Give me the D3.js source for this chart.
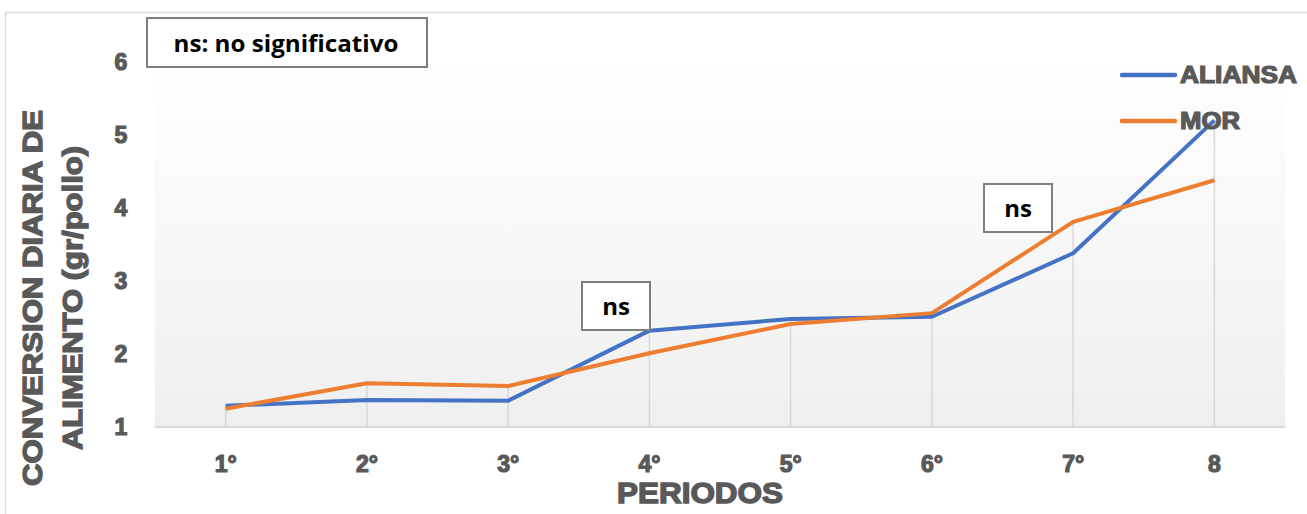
<!DOCTYPE html>
<html>
<head>
<meta charset="utf-8">
<script src="https://cdn.jsdelivr.net/npm/d3@7"></script>
<style>
  body { margin: 0; background: #fff; }
  text { font-family: "Liberation Sans", Arial, sans-serif; }
</style>
</head>
<body>
<div id="chart"></div>
<script>
"use strict";

// Data
const periods = ["1°", "2°", "3°", "4°", "5°", "6°", "7°", "8"];
const aliansa = [1.29, 1.37, 1.36, 2.32, 2.48, 2.51, 3.38, 5.2];
const mor = [1.25, 1.60, 1.56, 2.01, 2.41, 2.56, 3.81, 4.38];
const yTicks = [1, 2, 3, 4, 5, 6];
const seriesNames = ["ALIANSA", "MOR"];
const seriesColors = ["#4472c4", "#ed7d31"];
const noteText = "ns: no significativo";
const nsLabels = ["ns", "ns"];

const width = 1307, height = 514;
const plot = { left: 155, right: 1285, top: 62, bottom: 427 };
const axisGrey = "#595959";
// annotation boxes (top-left corners, pixels)
const nsBoxPos = [[582, 282], [984, 184]];

let svg = d3.select("#chart").append("svg")
    .attr("width", width)
    .attr("height", height);

// Outer chart frame
svg.append("rect")
    .attr("x", 5.5).attr("y", 12.5)
    .attr("width", width + 10).attr("height", height + 10)
    .attr("fill", "none")
    .attr("stroke", "#d9d9d9")
    .attr("stroke-width", 1.5);

// Plot background gradient
let defs = svg.append("defs");
let grad = defs.append("linearGradient")
    .attr("id", "bg").attr("x1", 0).attr("y1", 0).attr("x2", 0).attr("y2", 1);
grad.append("stop").attr("offset", "0%").attr("stop-color", "#ffffff");
grad.append("stop").attr("offset", "100%").attr("stop-color", "#efefef");

let xScale = d3.scaleBand()
    .domain(periods)
    .range([plot.left, plot.right]);
let xc = d => xScale(d) + xScale.bandwidth() / 2;

let yScale = d3.scaleLinear()
    .domain([1, 6])
    .range([plot.bottom, plot.top]);

svg.append("rect")
    .attr("x", plot.left).attr("y", yScale(6))
    .attr("width", plot.right - plot.left)
    .attr("height", plot.bottom - yScale(6))
    .attr("fill", "url(#bg)");

// Drop lines from the highest point down to the axis
svg.append("g").selectAll("line")
    .data(periods)
    .join("line")
    .attr("x1", d => xc(d)).attr("x2", d => xc(d))
    .attr("y1", (d, i) => yScale(Math.max(aliansa[i], mor[i])))
    .attr("y2", plot.bottom)
    .attr("stroke", "#d9d9d9")
    .attr("stroke-width", 1.5);

// Category axis line
svg.append("line")
    .attr("x1", plot.left).attr("x2", plot.right)
    .attr("y1", plot.bottom).attr("y2", plot.bottom)
    .attr("stroke", "#d9d9d9")
    .attr("stroke-width", 2);

// Y tick labels
svg.append("g").selectAll("text")
    .data(yTicks)
    .join("text")
    .attr("x", 121)
    .attr("y", d => yScale(d))
    .attr("dy", "0.36em")
    .attr("text-anchor", "middle")
    .attr("fill", axisGrey)
    .attr("stroke", axisGrey).attr("stroke-width", 1.2)
    .style("font-size", "23px")
    .style("font-weight", "bold")
    .text(d => d);

// X tick labels
svg.append("g").selectAll("text")
    .data(periods)
    .join("text")
    .attr("x", d => xc(d))
    .attr("y", 464)
    .attr("dy", "0.36em")
    .attr("text-anchor", "middle")
    .attr("fill", axisGrey)
    .attr("stroke", axisGrey).attr("stroke-width", 1.2)
    .style("font-size", "23px")
    .style("font-weight", "bold")
    .text(d => d);

// Axis titles
svg.append("text")
    .attr("x", 700).attr("y", 503)
    .attr("text-anchor", "middle")
    .attr("fill", axisGrey)
    .attr("stroke", axisGrey).attr("stroke-width", 1.4)
    .attr("textLength", 166).attr("lengthAdjust", "spacingAndGlyphs")
    .style("font-size", "29px")
    .style("font-weight", "bold")
    .text("PERIODOS");

let yTitle = svg.append("text")
    .attr("transform", "translate(0,298) rotate(-90)")
    .attr("text-anchor", "middle")
    .attr("fill", axisGrey)
    .attr("stroke", axisGrey).attr("stroke-width", 1.4)
    .style("font-size", "28px")
    .style("font-weight", "bold");
yTitle.append("tspan").attr("x", 0).attr("y", 42)
    .attr("textLength", 376).attr("lengthAdjust", "spacingAndGlyphs")
    .text("CONVERSION DIARIA DE");
yTitle.append("tspan").attr("x", 0).attr("y", 82)
    .attr("textLength", 304).attr("lengthAdjust", "spacingAndGlyphs")
    .text("ALIMENTO (gr/pollo)");

// Series lines
let line = d3.line()
    .x((d, i) => xc(periods[i]))
    .y(d => yScale(d));

svg.append("g").selectAll("path")
    .data([aliansa, mor])
    .join("path")
    .attr("d", d => line(d))
    .attr("fill", "none")
    .attr("stroke", (d, i) => seriesColors[i])
    .attr("stroke-width", 4)
    .attr("stroke-linejoin", "round");

// Legend
const legendWidths = [117, 60];
let legend = svg.append("g").selectAll("g")
    .data(seriesNames)
    .join("g")
    .attr("transform", (d, i) => "translate(1122," + (75 + i * 46) + ")");
legend.append("line")
    .attr("x1", 0).attr("x2", 53)
    .attr("stroke", (d, i) => seriesColors[i])
    .attr("stroke-width", 4.5)
    .attr("stroke-linecap", "round");
legend.append("text")
    .attr("x", 58)
    .attr("dy", "0.36em")
    .attr("fill", axisGrey)
    .attr("stroke", axisGrey).attr("stroke-width", 1.2)
    .attr("textLength", (d, i) => legendWidths[i]).attr("lengthAdjust", "spacingAndGlyphs")
    .style("font-size", "23px")
    .style("font-weight", "bold")
    .text(d => d);

// Note box
svg.append("rect")
    .attr("x", 147).attr("y", 18)
    .attr("width", 280).attr("height", 49)
    .attr("fill", "#fff")
    .attr("stroke", "#7f7f7f")
    .attr("stroke-width", 2);
svg.append("text")
    .attr("x", 286).attr("y", 43)
    .attr("dy", "0.36em")
    .attr("text-anchor", "middle")
    .attr("fill", "#000")
    .attr("textLength", 225).attr("lengthAdjust", "spacingAndGlyphs")
    .style("font-family", "'Open Sans', sans-serif")
    .style("font-size", "24px")
    .style("font-weight", "bold")
    .text(noteText);

// "ns" boxes
let ns = svg.append("g").selectAll("g")
    .data(nsLabels)
    .join("g")
    .attr("transform", (d, i) => "translate(" + nsBoxPos[i][0] + "," + nsBoxPos[i][1] + ")");
ns.append("rect")
    .attr("x", 0).attr("y", 0)
    .attr("width", 68).attr("height", 48)
    .attr("fill", "#fff")
    .attr("stroke", "#7f7f7f")
    .attr("stroke-width", 2);
ns.append("text")
    .attr("x", 34).attr("y", 24)
    .attr("dy", "0.36em")
    .attr("text-anchor", "middle")
    .attr("fill", "#000")
    .style("font-family", "'Open Sans', sans-serif")
    .style("font-size", "24px")
    .style("font-weight", "bold")
    .text(d => d);
</script>
</body>
</html>
